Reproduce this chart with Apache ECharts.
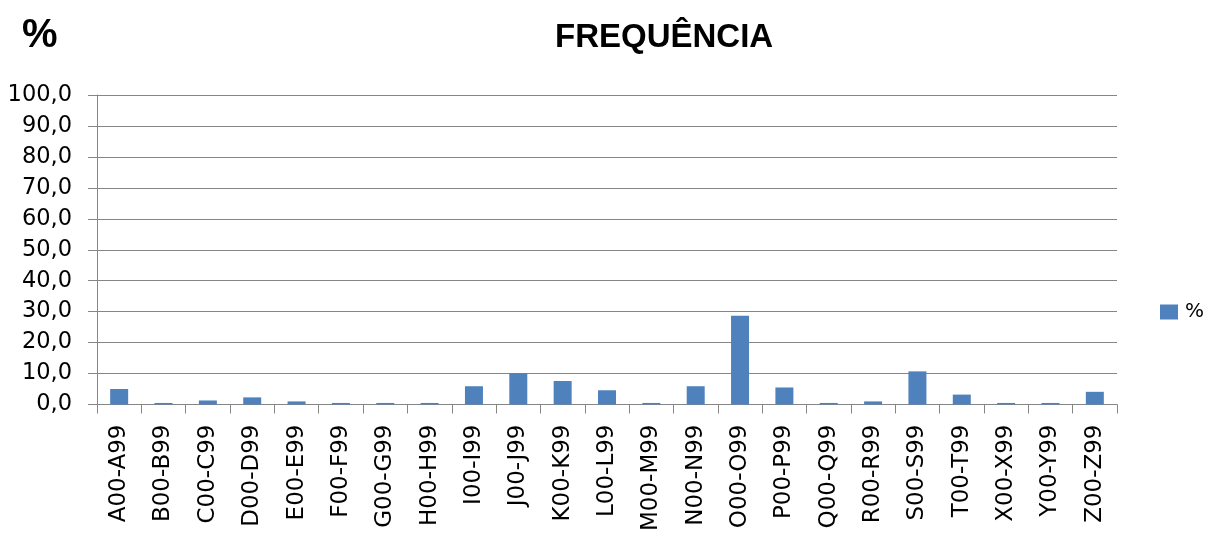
<!DOCTYPE html>
<html>
<head>
<meta charset="utf-8">
<script src="https://cdn.jsdelivr.net/npm/echarts@6/dist/echarts.min.js"></script>
<style>
  html, body { margin: 0; padding: 0; background: #fff; }
  #chart { width: 1205px; height: 535px; }
</style>
</head>
<body>
<div id="chart"></div>
<script>
// ICD-10 chapter ranges and their share (%) of all records
const categories = [
  'A00-A99', 'B00-B99', 'C00-C99', 'D00-D99', 'E00-E99', 'F00-F99',
  'G00-G99', 'H00-H99', 'I00-I99', 'J00-J99', 'K00-K99', 'L00-L99',
  'M00-M99', 'N00-N99', 'O00-O99', 'P00-P99', 'Q00-Q99', 'R00-R99',
  'S00-S99', 'T00-T99', 'X00-X99', 'Y00-Y99', 'Z00-Z99'
];
const percentValues = [
  5.0, 0.5, 1.3, 2.3, 1.0, 0.5,
  0.5, 0.5, 5.9, 10.1, 7.6, 4.6,
  0.5, 5.9, 28.7, 5.5, 0.5, 1.0,
  10.7, 3.2, 0.5, 0.5, 4.1
];
const seriesName = '%';
const yMin = 0, yMax = 100, yStep = 10;

const axisGray = '#868686';
const labelFont = 'DejaVu Sans';

const chart = echarts.init(document.getElementById('chart'), null, { renderer: 'canvas' });
chart.setOption({
  animation: false,
  backgroundColor: '#ffffff',
  title: [
    {
      text: 'FREQUÊNCIA',
      left: 550, top: 16,
      textStyle: { fontFamily: 'Liberation Sans', fontWeight: 'bold', fontSize: 33, color: '#000' }
    },
    {
      text: '%',
      left: 17, top: 11,
      textStyle: { fontFamily: 'Liberation Sans', fontWeight: 'bold', fontSize: 40, color: '#000' }
    }
  ],
  legend: {
    data: [seriesName],
    left: 1160, top: 302,
    padding: 0,
    itemWidth: 18, itemHeight: 15, itemGap: 6,
    icon: 'rect',
    textStyle: { fontFamily: labelFont, fontSize: 20, color: '#000', padding: [0, 0, 0, 2] }
  },
  grid: { left: 97, right: 88, top: 95, bottom: 130.5, containLabel: false },
  xAxis: {
    type: 'category',
    data: categories,
    boundaryGap: true,
    axisLine: { show: true, lineStyle: { color: axisGray, width: 1 } },
    axisTick: { show: true, length: 9, lineStyle: { color: axisGray } },
    axisLabel: {
      rotate: 90, interval: 0, margin: 20,
      fontFamily: labelFont, fontSize: 23, color: '#000'
    },
    splitLine: { show: false }
  },
  yAxis: {
    type: 'value',
    min: yMin, max: yMax, interval: yStep,
    axisLine: { show: true, lineStyle: { color: axisGray, width: 1 } },
    axisTick: { show: true, length: 9, lineStyle: { color: axisGray } },
    axisLabel: {
      margin: 25,
      fontFamily: labelFont, fontSize: 22.5, color: '#000',
      formatter: v => v.toFixed(1).replace('.', ',')
    },
    splitLine: { show: true, lineStyle: { color: axisGray, width: 1 } }
  },
  series: [{
    name: seriesName,
    type: 'bar',
    data: percentValues,
    barWidth: 18,
    itemStyle: { color: '#4F81BD' }
  }]
});
</script>
</body>
</html>
